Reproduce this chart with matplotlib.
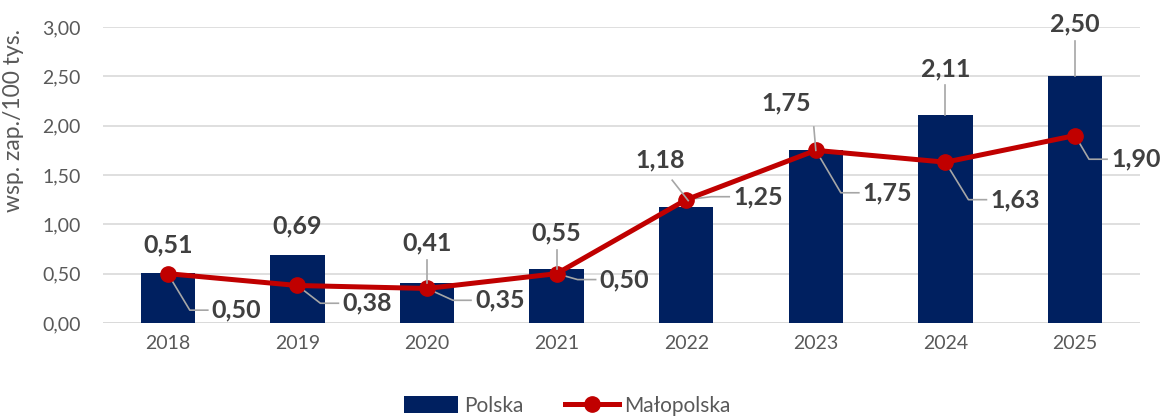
import matplotlib
matplotlib.use("Agg")
import matplotlib.pyplot as plt
import numpy as np

years = ["2018", "2019", "2020", "2021", "2022", "2023", "2024", "2025"]
polska = [0.51, 0.69, 0.41, 0.55, 1.18, 1.75, 2.11, 2.50]
malopolska = [0.50, 0.38, 0.35, 0.50, 1.25, 1.75, 1.63, 1.90]
y_ticks = [0.0, 0.5, 1.0, 1.5, 2.0, 2.5, 3.0]

plt.rcParams['font.family'] = ['Lato', 'DejaVu Sans']

NAVY = "#002060"
RED = "#C00000"
LBL = "#404040"
TICK = "#595959"
LEAD = "#a6a6a6"

fig = plt.figure(figsize=(11.65, 4.16), dpi=100)
ax = fig.add_axes([0.0884, 0.2236, 0.89, 0.7114])

x = np.arange(len(years))
ax.bar(x, polska, width=0.42, color=NAVY, zorder=2)
ax.plot(x, malopolska, color=RED, lw=3.6, marker='o', markersize=11, zorder=3)

ax.set_xlim(-0.5, len(years) - 0.5)
ax.set_ylim(0, 3.0)
ax.set_yticks(y_ticks)
ax.set_yticklabels([f"{v:.2f}".replace('.', ',') for v in y_ticks])
ax.set_xticks(x)
ax.set_xticklabels(years)
ax.tick_params(axis='both', length=0, labelsize=14, colors=TICK, pad=9)
ax.tick_params(axis='y', pad=16)
ax.grid(axis='y', color="#d9d9d9", lw=1.2, zorder=0)
ax.set_axisbelow(True)
for s in ax.spines.values():
    s.set_visible(False)
ax.axhline(0, color="#d9d9d9", lw=1.2, zorder=1)
ax.set_ylabel("wsp. zap./100 tys.", fontsize=16.5, color=TICK)
ax.yaxis.set_label_coords(-0.076, 0.685)

def fmt(v):
    return f"{v:.2f}".replace('.', ',')

# pixel -> data helpers (layout only)
px_x = 1.0 / 129.6
px_y = 1.0 / 98.67

# Polska labels: (dx in px, label center y in data, leader?)
pol_lab = [(0, 0.79, False), (0, 0.98, False), (0, 0.81, True), (0, 0.91, True),
           (-26, 1.65, True), (-30, 2.23, True), (0, 2.58, True), (0, 3.03, True)]
for i, (v, (dx, ly, lead)) in enumerate(zip(polska, pol_lab)):
    lx = i + dx * px_x
    ax.text(lx, ly, fmt(v), ha='center', va='center', fontsize=18,
            fontweight='bold', color=LBL, zorder=5, clip_on=False)
    if lead:
        if i == 4:
            sx, sy = lx + 12 * px_x, ly - 20 * px_y
            ex, ey = i + 2 * px_x, v + 6 * px_y
        elif i == 5:
            sx, sy = lx + 28 * px_x, ly - 24 * px_y
            ex, ey = i, v
        else:
            sx, sy = lx, ly - 17 * px_y
            ex, ey = i, v
        ax.plot([sx, ex], [sy, ey], color=LEAD, lw=1.2, zorder=4, clip_on=False)

# Małopolska labels: (label left offset px, label y in data)
mal_lab = [(44, 0.13), (45, 0.20), (48, 0.23), (43, 0.44),
           (47, 1.28), (47, 1.32), (45, 1.25), (36, 1.66)]
for i, (v, (dl, ly)) in enumerate(zip(malopolska, mal_lab)):
    lx = i + dl * px_x
    ax.text(lx, ly, fmt(v), ha='left', va='center', fontsize=18,
            fontweight='bold', color=LBL, zorder=5, clip_on=False)
    ex = lx - 4 * px_x
    elx = lx - 22 * px_x
    if elx < i:
        elx = i
    ax.plot([i, elx, ex], [v, ly, ly], color=LEAD, lw=1.2, zorder=2.5, clip_on=False)

from matplotlib.patches import Patch
from matplotlib.lines import Line2D
handles = [Patch(facecolor=NAVY, label="Polska"),
           Line2D([0], [0], color=RED, lw=3.6, marker='o', markersize=11, label="Małopolska")]
leg = fig.legend(handles=handles, loc='center', bbox_to_anchor=(0.487, 0.025), ncol=2,
                 frameon=False, fontsize=15, handlelength=2.6, handleheight=0.85,
                 columnspacing=2.0, handletextpad=0.25)
for t in leg.get_texts():
    t.set_color(TICK)

fig.savefig("out.png", dpi=100)
